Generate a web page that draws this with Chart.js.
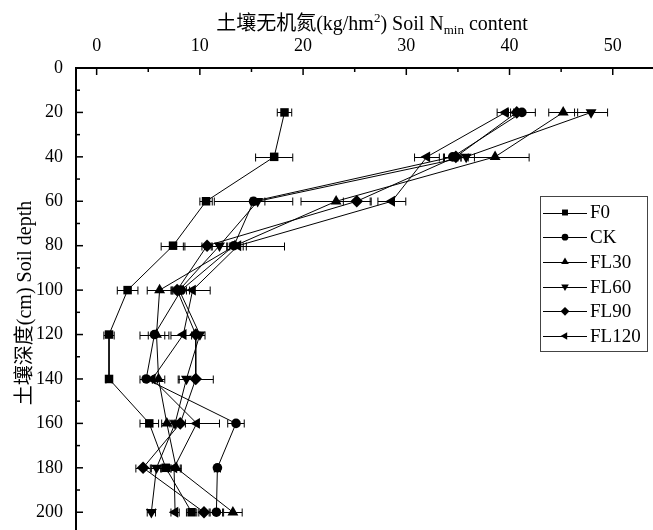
<!DOCTYPE html>
<html>
<head>
<meta charset="utf-8">
<script src="https://cdn.jsdelivr.net/npm/chart.js@4/dist/chart.umd.min.js"></script>
<style>
  html, body { margin: 0; padding: 0; background: #fff; }
  #wrap { position: relative; width: 653px; height: 530px; }
</style>
</head>
<body>
<div id="wrap"><canvas id="c" width="653" height="530"></canvas></div>
<script>
// Sampling depths (cm)
const depths = [20, 40, 60, 80, 100, 120, 140, 160, 180, 200];

// Soil mineral N (kg/hm2) by treatment, with standard deviations
const F0       = [18.2, 17.2, 10.6, 7.4, 3.0, 1.2, 1.2, 5.1, 6.7, 9.2];
const F0_err   = [0.7, 1.8, 0.6, 1.15, 1.0, 0.5, 0.3, 0.9, 0.5, 0.5];
const CK       = [41.2, 34.5, 15.2, 13.3, 8.2, 5.6, 4.8, 13.5, 11.7, 11.6];
const CK_err   = [1.3, 0.8, 3.8, 4.9, 0.8, 1.4, 0.6, 0.8, 0.3, 0.6];
const FL30     = [45.2, 38.6, 23.2, 13.4, 6.1, 5.8, 6.0, 6.8, 7.7, 13.2];
const FL30_err = [1.4, 3.3, 3.4, 0.8, 1.2, 0.8, 0.6, 0.5, 0.5, 0.9];
const FL60     = [47.9, 35.8, 15.6, 11.9, 8.0, 10.0, 8.7, 7.6, 5.8, 5.3];
const FL60_err = [1.6, 0.8, 0.7, 0.8, 0.7, 0.5, 0.7, 0.5, 0.5, 0.4];
const FL90     = [40.7, 34.8, 25.2, 10.7, 7.8, 9.6, 9.6, 8.1, 4.5, 10.4];
const FL90_err = [0.6, 1.2, 1.3, 0.5, 0.6, 0.4, 1.7, 0.5, 0.7, 0.5];
const FL120    = [39.6, 32.0, 28.6, 13.7, 9.3, 8.4, 5.4, 9.7, 7.5, 7.6];
const FL120_err= [0.8, 1.2, 1.35, 0.8, 1.7, 1.2, 0.5, 2.2, 0.6, 0.4];

// Axis tick values
const xTickValues = [0, 10, 20, 30, 40, 50];
const xMinorValues = [5, 15, 25, 35, 45];
const yTickValues = [0, 20, 40, 60, 80, 100, 120, 140, 160, 180, 200];
const yMinorValues = [10, 30, 50, 70, 90, 110, 130, 150, 170, 190];

const SERIF = '"Liberation Serif", "Noto Sans CJK SC", serif';

const seriesDefs = [
  { label: 'F0',    values: F0,    err: F0_err,    style: 'rect',     rot: 0,   r: 6 },
  { label: 'CK',    values: CK,    err: CK_err,    style: 'circle',   rot: 0,   r: 4.8 },
  { label: 'FL30',  values: FL30,  err: FL30_err,  style: 'triangle', rot: 0,   r: 6.3 },
  { label: 'FL60',  values: FL60,  err: FL60_err,  style: 'triangle', rot: 180, r: 6.3 },
  { label: 'FL90',  values: FL90,  err: FL90_err,  style: 'rectRot',  rot: 0,   r: 6.3 },
  { label: 'FL120', values: FL120, err: FL120_err, style: 'triangle', rot: 270, r: 6.3 }
];

const datasets = seriesDefs.map(s => ({
  label: s.label,
  data: s.values.map((v, i) => ({ x: v, y: depths[i] })),
  errors: s.err,
  showLine: true,
  borderColor: '#000',
  borderWidth: 1,
  backgroundColor: '#000',
  pointBackgroundColor: '#000',
  pointBorderColor: '#000',
  pointBorderWidth: 0,
  pointStyle: s.style,
  pointRotation: s.rot,
  pointRadius: s.r,
  tension: 0
}));

// Error bars, inward ticks, axis titles and legend
const decor = {
  id: 'decor',
  beforeDatasetsDraw(chart) {
    const ctx = chart.ctx, xs = chart.scales.x, ys = chart.scales.y;
    ctx.save();
    ctx.beginPath();
    ctx.rect(chart.chartArea.left, chart.chartArea.top,
             chart.chartArea.right - chart.chartArea.left,
             chart.chartArea.bottom - chart.chartArea.top);
    ctx.clip();
    ctx.strokeStyle = '#000';
    ctx.lineWidth = 1;
    chart.data.datasets.forEach(ds => {
      ds.data.forEach((p, i) => {
        const e = ds.errors[i];
        const y = Math.round(ys.getPixelForValue(p.y)) + 0.5;
        const x1 = xs.getPixelForValue(p.x - e);
        const x2 = xs.getPixelForValue(p.x + e);
        ctx.beginPath();
        ctx.moveTo(x1, y); ctx.lineTo(x2, y);
        ctx.moveTo(x1, y - 4); ctx.lineTo(x1, y + 4);
        ctx.moveTo(x2, y - 4); ctx.lineTo(x2, y + 4);
        ctx.stroke();
      });
    });
    ctx.restore();
  },
  afterDraw(chart) {
    const ctx = chart.ctx, xs = chart.scales.x, ys = chart.scales.y;
    const area = chart.chartArea;
    ctx.save();
    ctx.strokeStyle = '#000';
    ctx.lineWidth = 1.5;
    // top axis ticks pointing into the plot
    const tickX = (v, len) => {
      const x = xs.getPixelForValue(v);
      ctx.beginPath(); ctx.moveTo(x, area.top); ctx.lineTo(x, area.top + len); ctx.stroke();
    };
    xTickValues.forEach(v => tickX(v, 7));
    xMinorValues.forEach(v => tickX(v, 4));
    // left axis ticks pointing into the plot
    const tickY = (v, len) => {
      const y = ys.getPixelForValue(v);
      ctx.beginPath(); ctx.moveTo(area.left, y); ctx.lineTo(area.left + len, y); ctx.stroke();
    };
    yTickValues.forEach(v => tickY(v, 7));
    yMinorValues.forEach(v => tickY(v, 4));

    // x axis title with superscript and subscript
    ctx.fillStyle = '#000';
    ctx.textBaseline = 'alphabetic';
    const base = 30, fs = 20, small = 13;
    const parts = [
      { t: '土壤无机氮', f: fs, dy: 0 },
      { t: '(kg/hm', f: fs, dy: 0 },
      { t: '2', f: small, dy: -8 },
      { t: ') Soil N', f: fs, dy: 0 },
      { t: 'min', f: small, dy: 4 },
      { t: ' content', f: fs, dy: 0 }
    ];
    let total = 0;
    parts.forEach(p => { ctx.font = p.f + 'px ' + SERIF; p.w = ctx.measureText(p.t).width; total += p.w; });
    let cx = 372 - total / 2;
    ctx.textAlign = 'left';
    parts.forEach(p => { ctx.font = p.f + 'px ' + SERIF; ctx.fillText(p.t, cx, base + p.dy); cx += p.w; });

    // y axis title, rotated
    ctx.save();
    ctx.translate(31, 303);
    ctx.rotate(-Math.PI / 2);
    ctx.font = fs + 'px ' + SERIF;
    ctx.textAlign = 'center';
    ctx.fillText('土壤深度(cm) Soil depth', 0, 0);
    ctx.restore();

    // legend
    const lx = 540, ly = 196, lw = 107, lh = 155;
    ctx.fillStyle = '#fff';
    ctx.fillRect(lx, ly, lw, lh);
    ctx.strokeStyle = '#444';
    ctx.lineWidth = 1;
    ctx.strokeRect(lx + 0.5, ly + 0.5, lw, lh);
    chart.data.datasets.forEach((ds, i) => {
      const y = 212.5 + i * 24.7;
      ctx.strokeStyle = '#000';
      ctx.lineWidth = 1;
      ctx.beginPath(); ctx.moveTo(543, Math.round(y) + 0.5); ctx.lineTo(587, Math.round(y) + 0.5); ctx.stroke();
      ctx.fillStyle = '#000';
      Chart.helpers.drawPoint(ctx, {
        pointStyle: ds.pointStyle, rotation: ds.pointRotation,
        radius: ds.pointRadius * 0.7, borderWidth: 0
      }, 565, y);
      ctx.fillStyle = '#000';
      ctx.font = '19px ' + SERIF;
      ctx.textAlign = 'left';
      ctx.textBaseline = 'middle';
      ctx.fillText(ds.label, 590, y + 1);
    });
    ctx.restore();
  }
};

new Chart(document.getElementById('c'), {
  type: 'scatter',
  data: { datasets },
  options: {
    responsive: false,
    animation: false,
    layout: { padding: 0, autoPadding: false },
    plugins: { legend: { display: false }, tooltip: { enabled: false } },
    scales: {
      x: {
        type: 'linear',
        position: 'top',
        min: -2,
        max: 53.9,
        grid: { display: false, drawTicks: false },
        border: { display: true, color: '#000', width: 2 },
        ticks: { color: '#000', font: { family: SERIF, size: 18 }, padding: 11 },
        afterBuildTicks: s => { s.ticks = xTickValues.map(v => ({ value: v })); },
        afterFit: s => { s.height = 68; s.paddingLeft = 0; s.paddingRight = 0; }
      },
      y: {
        type: 'linear',
        position: 'left',
        reverse: true,
        min: 0,
        max: 208,
        grid: { display: false, drawTicks: false },
        border: { display: true, color: '#000', width: 2 },
        ticks: { color: '#000', font: { family: SERIF, size: 18 }, padding: 13 },
        afterBuildTicks: s => { s.ticks = yTickValues.map(v => ({ value: v })); },
        afterFit: s => { s.width = 76; s.paddingTop = 0; s.paddingBottom = 0; }
      }
    }
  },
  plugins: [decor]
});
</script>
</body>
</html>
